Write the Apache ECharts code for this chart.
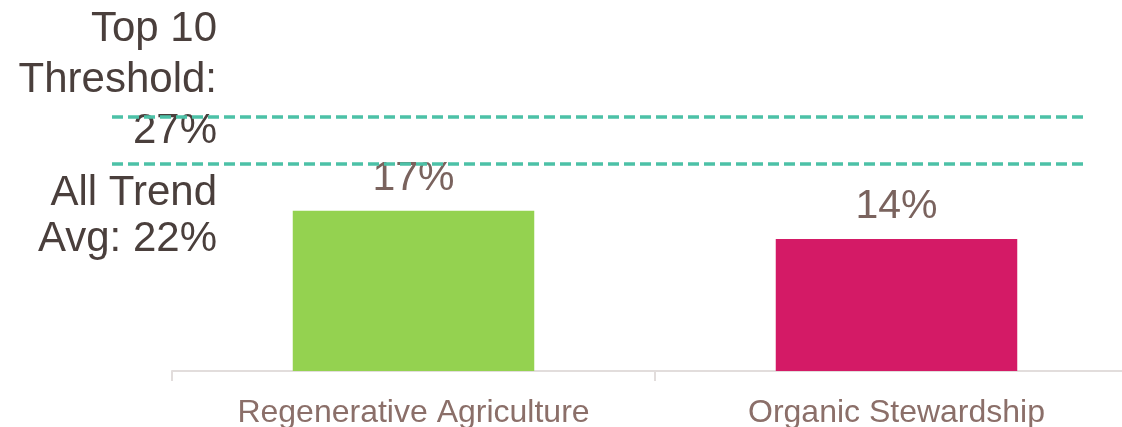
<!DOCTYPE html>
<html>
<head>
<meta charset="utf-8">
<script src="https://cdn.jsdelivr.net/npm/echarts@6/dist/echarts.min.js"></script>
<style>
  html, body { margin: 0; padding: 0; background: #ffffff; }
  #chart { width: 1122px; height: 427px; }
</style>
</head>
<body>
<div id="chart"></div>
<script>
// Trend share by category
const categories = ['Regenerative Agriculture', 'Organic Stewardship'];
const shares = [17, 14];
const barColors = ['#94d250', '#d41a66'];

// Reference levels
const thresholdTop10 = 27;
const trendAverage = 22;
const thresholdLabel = 'Top 10\nThreshold:\n' + thresholdTop10 + '%';
const averageLabel = 'All Trend\nAvg: ' + trendAverage + '%';

const FONT = '"Liberation Sans", Arial, sans-serif';
const refLineStyle = { color: '#4cc1a7', width: 3.5, type: [11, 5] };

const chart = echarts.init(document.getElementById('chart'), null, { renderer: 'canvas' });

chart.setOption({
  animation: false,
  backgroundColor: '#ffffff',
  // plot area runs slightly past the right edge of the canvas
  grid: { left: 172, width: 966, top: 41, bottom: 56, outerBoundsMode: 'none', containLabel: false },
  xAxis: {
    type: 'category',
    data: categories,
    axisLine: { lineStyle: { color: '#e2dddc', width: 2 } },
    axisTick: { show: true, length: 10, lineStyle: { color: '#e2dddc', width: 2 } },
    axisLabel: { fontFamily: FONT, fontSize: 32, color: '#8b6f69', margin: 26 }
  },
  yAxis: {
    type: 'value',
    min: 0,
    max: 35,
    show: false,
    splitLine: { show: false }
  },
  series: [{
    type: 'bar',
    barWidth: '50%',
    data: shares.map((v, i) => ({ value: v, itemStyle: { color: barColors[i] } })),
    label: {
      show: true,
      position: 'top',
      distance: 12,
      formatter: p => p.value + '%',
      fontFamily: FONT,
      fontSize: 41,
      color: '#7a635e'
    },
    markLine: {
      silent: true,
      symbol: 'none',
      label: { show: false },
      lineStyle: refLineStyle,
      data: [
        [{ xAxis: 0, yAxis: thresholdTop10, x: 112 }, { xAxis: 1, yAxis: thresholdTop10, x: 1085 }],
        [{ xAxis: 0, yAxis: trendAverage, x: 112 }, { xAxis: 1, yAxis: trendAverage, x: 1085 }]
      ]
    }
  }]
});

// Left-side captions anchored to the reference lines
const yThreshold = chart.convertToPixel({ yAxisIndex: 0 }, thresholdTop10);
const yAverage = chart.convertToPixel({ yAxisIndex: 0 }, trendAverage);

chart.setOption({
  graphic: [
    {
      type: 'text',
      x: 217,
      y: yThreshold + 40,
      style: {
        text: thresholdLabel,
        fontFamily: FONT,
        fontSize: 42,
        lineHeight: 51,
        fill: '#4a3f3c',
        align: 'right',
        verticalAlign: 'bottom'
      }
    },
    {
      type: 'text',
      x: 217,
      y: yAverage + 7,
      style: {
        text: averageLabel,
        fontFamily: FONT,
        fontSize: 42,
        lineHeight: 46,
        fill: '#4a3f3c',
        align: 'right',
        verticalAlign: 'top'
      }
    }
  ]
});
</script>
</body>
</html>
